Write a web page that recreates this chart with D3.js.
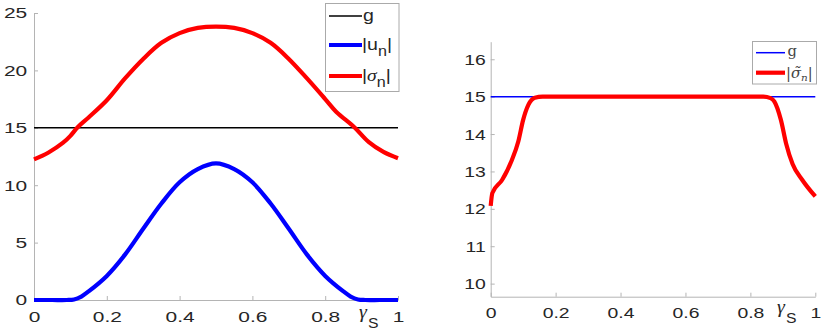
<!DOCTYPE html>
<html>
<head>
<meta charset="utf-8">
<script src="https://cdn.jsdelivr.net/npm/d3@7"></script>
<style>
  body { margin: 0; background: #fff; }
  svg { display: block; }
  .tick text { fill: #262626; font-family: "Liberation Sans", Arial, sans-serif; }
  .leg { fill: #262626; }
</style>
</head>
<body>
<script>
// left panel: |u_n| and |sigma_n| against gamma_S, g constant
var gLeft = 15;
var tLeft = [0, 0.04, 0.08, 0.1, 0.12, 0.15, 0.2, 0.25, 0.3, 0.35, 0.4, 0.45, 0.5,
             0.55, 0.6, 0.65, 0.7, 0.75, 0.8, 0.83, 0.88, 0.92, 0.96, 1];
var sigmaN = [12.25, 12.85, 13.7, 14.3, 15.05, 15.9, 17.4, 19.3, 21.0, 22.4, 23.25, 23.7, 23.82,
              23.7, 23.25, 22.4, 21.0, 19.3, 17.5, 16.4, 15.05, 13.75, 12.9, 12.35];
var tU = [0, 0.05, 0.09, 0.11, 0.13, 0.15, 0.2, 0.25, 0.3, 0.35, 0.4, 0.45, 0.5,
          0.55, 0.6, 0.65, 0.7, 0.75, 0.8, 0.85, 0.87, 0.89, 0.91, 0.95, 1];
var uN = [0, 0, 0, 0.05, 0.3, 0.75, 2.1, 3.95, 6.2, 8.4, 10.25, 11.4, 11.9,
          11.4, 10.25, 8.4, 6.2, 3.95, 2.1, 0.75, 0.3, 0.05, 0, 0, 0];
var yTicksLeft = [0, 5, 10, 15, 20, 25];

// right panel: regularised |sigma_n| against g
var gRight = 15;
var tRight = [0, 0.005, 0.035, 0.065, 0.085, 0.1, 0.116, 0.136, 0.16, 0.5,
              0.84, 0.862, 0.874, 0.894, 0.91, 0.93, 0.96, 1];
var sigmaTilde = [12.08, 12.42, 12.77, 13.3, 13.8, 14.38, 14.78, 14.97, 15.0, 15.0,
                  15.0, 14.96, 14.87, 14.38, 13.75, 13.2, 12.77, 12.33];
var yTicksRight = [10, 11, 12, 13, 14, 15, 16];

var xTicks = [0, 0.2, 0.4, 0.6, 0.8, 1];
var xTickLabels = ["0", "0.2", "0.4", "0.6", "0.8", "1"];

var svg = d3.select("body").append("svg")
  .attr("width", 822).attr("height", 333);

var axisColor = "#b4b4b4";

function drawAxes(x, y, yTicks, xPad, yPad, sx, fs) {
  var gy = svg.append("g")
    .attr("transform", "translate(" + x.range()[0] + ",0)")
    .call(d3.axisLeft(y).tickValues(yTicks).tickSizeInner(-4).tickSizeOuter(0)
      .tickPadding(yPad).tickFormat(d3.format("d")));
  var gx = svg.append("g")
    .attr("transform", "translate(0," + y.range()[0] + ")")
    .call(d3.axisBottom(x).tickValues(xTicks).tickSizeInner(-4).tickSizeOuter(0)
      .tickPadding(xPad).tickFormat(function(d, i) { return xTickLabels[i]; }));
  [gx, gy].forEach(function(g) {
    g.select(".domain").attr("stroke", axisColor);
    g.selectAll(".tick line").attr("stroke", axisColor);
    g.selectAll(".tick text").style("font-size", fs + "px")
      .attr("transform", "scale(" + sx + ",1)");
  });
}

function gammaLabel(x, y, sx) {
  var t = svg.append("g").attr("transform", "translate(" + x + "," + y + ") scale(" + sx + ",1)");
  t.append("text").attr("x", 0).attr("y", 0)
    .style("font-family", "'Liberation Serif', serif").style("font-size", "19px")
    .style("font-style", "italic").attr("fill", "#262626").text("γ");
  t.append("text").attr("x", 8.5).attr("y", 10)
    .style("font-family", "'Liberation Sans', sans-serif").style("font-size", "15px")
    .attr("fill", "#262626").text("S");
}

var smooth = d3.line().curve(d3.curveCatmullRom.alpha(0.5));
var flat = d3.line().curve(d3.curveMonotoneX);

// ---------- left panel ----------
var xL = d3.scaleLinear([0, 1], [34, 398]);
var yL = d3.scaleLinear([0, 25], [300, 13]);
drawAxes(xL, yL, yTicksLeft, 11, 5, 1.35, 15.5);

svg.append("line")
  .attr("x1", xL(0)).attr("x2", xL(1))
  .attr("y1", yL(gLeft)).attr("y2", yL(gLeft))
  .attr("stroke", "#000").attr("stroke-width", 1.5);

svg.append("path")
  .attr("d", smooth(tU.map(function(t, i) { return [xL(t), yL(uN[i])]; })))
  .attr("fill", "none").attr("stroke", "#0000ff").attr("stroke-width", 4.2);
svg.append("path")
  .attr("d", smooth(tLeft.map(function(t, i) { return [xL(t), yL(sigmaN[i])]; })))
  .attr("fill", "none").attr("stroke", "#ff0000").attr("stroke-width", 4.2);

gammaLabel(359, 318, 1.05);

// left legend
var legL = svg.append("g");
legL.append("rect").attr("x", 325.5).attr("y", 3.5).attr("width", 73.5).attr("height", 88)
  .attr("fill", "#fff").attr("stroke", "#aaa").attr("stroke-width", 1);
var legRowsL = [
  {y: 16, color: "#000", w: 1.5},
  {y: 45, color: "#0000ff", w: 4.2},
  {y: 76, color: "#ff0000", w: 4.2}
];
legRowsL.forEach(function(r) {
  legL.append("line").attr("x1", 329).attr("x2", 362).attr("y1", r.y).attr("y2", r.y)
    .attr("stroke", r.color).attr("stroke-width", r.w);
});
function legText(x, y, sx) {
  return legL.append("text")
    .attr("transform", "translate(" + x + "," + y + ") scale(" + sx + ",1)")
    .attr("class", "leg")
    .style("font-family", "'Liberation Sans', sans-serif").style("font-size", "17px");
}
legText(363, 21, 1.15).text("g");
var tu = legText(362, 50, 1.15);
tu.append("tspan").text("|u");
tu.append("tspan").attr("dy", 6).style("font-size", "14px").text("n");
tu.append("tspan").attr("dy", -6).text("|");
var ts = legText(362, 81, 1.15);
ts.append("tspan").text("|");
ts.append("tspan").style("font-style", "italic").style("font-family", "'Liberation Serif', serif").text("σ");
ts.append("tspan").attr("dy", 6).style("font-size", "14px").text("n");
ts.append("tspan").attr("dy", -6).text("|");

// ---------- right panel ----------
var xR = d3.scaleLinear([0, 1], [490.7, 815.3]);
var yR = d3.scaleLinear([9.65, 16.47], [296.7, 41.7]);
drawAxes(xR, yR, yTicksRight, 10, 4, 1.25, 15.5);

svg.append("line")
  .attr("x1", xR(0)).attr("x2", xR(1))
  .attr("y1", yR(gRight)).attr("y2", yR(gRight))
  .attr("stroke", "#0000ff").attr("stroke-width", 1.5);
svg.append("path")
  .attr("d", flat(tRight.map(function(t, i) { return [xR(t), yR(sigmaTilde[i])]; })))
  .attr("fill", "none").attr("stroke", "#ff0000").attr("stroke-width", 4.2);

gammaLabel(777, 313, 1.05);

// right legend
var legR = svg.append("g");
legR.append("rect").attr("x", 752.5).attr("y", 41.5).attr("width", 64).attr("height", 42.5)
  .attr("fill", "#fff").attr("stroke", "#aaa").attr("stroke-width", 1);
legR.append("line").attr("x1", 756).attr("x2", 785).attr("y1", 52.7).attr("y2", 52.7)
  .attr("stroke", "#0000ff").attr("stroke-width", 1.5);
legR.append("line").attr("x1", 756).attr("x2", 785).attr("y1", 72.7).attr("y2", 72.7)
  .attr("stroke", "#ff0000").attr("stroke-width", 4.2);
function legTextR(x, y, fs) {
  return legR.append("text")
    .attr("transform", "translate(" + x + "," + y + ") scale(1.05,1)")
    .attr("fill", "#444")
    .style("font-family", "'DejaVu Serif', serif").style("font-size", fs + "px");
}
legTextR(787.5, 56, 14).text("g");
var tt = legTextR(786, 78, 14);
tt.append("tspan").text("|");
tt.append("tspan").style("font-style", "italic").text("σ\u0303");
tt.append("tspan").attr("dy", 3).style("font-style", "italic").style("font-size", "10px").text("n");
tt.append("tspan").attr("dy", -3).text("|");
</script>
</body>
</html>
